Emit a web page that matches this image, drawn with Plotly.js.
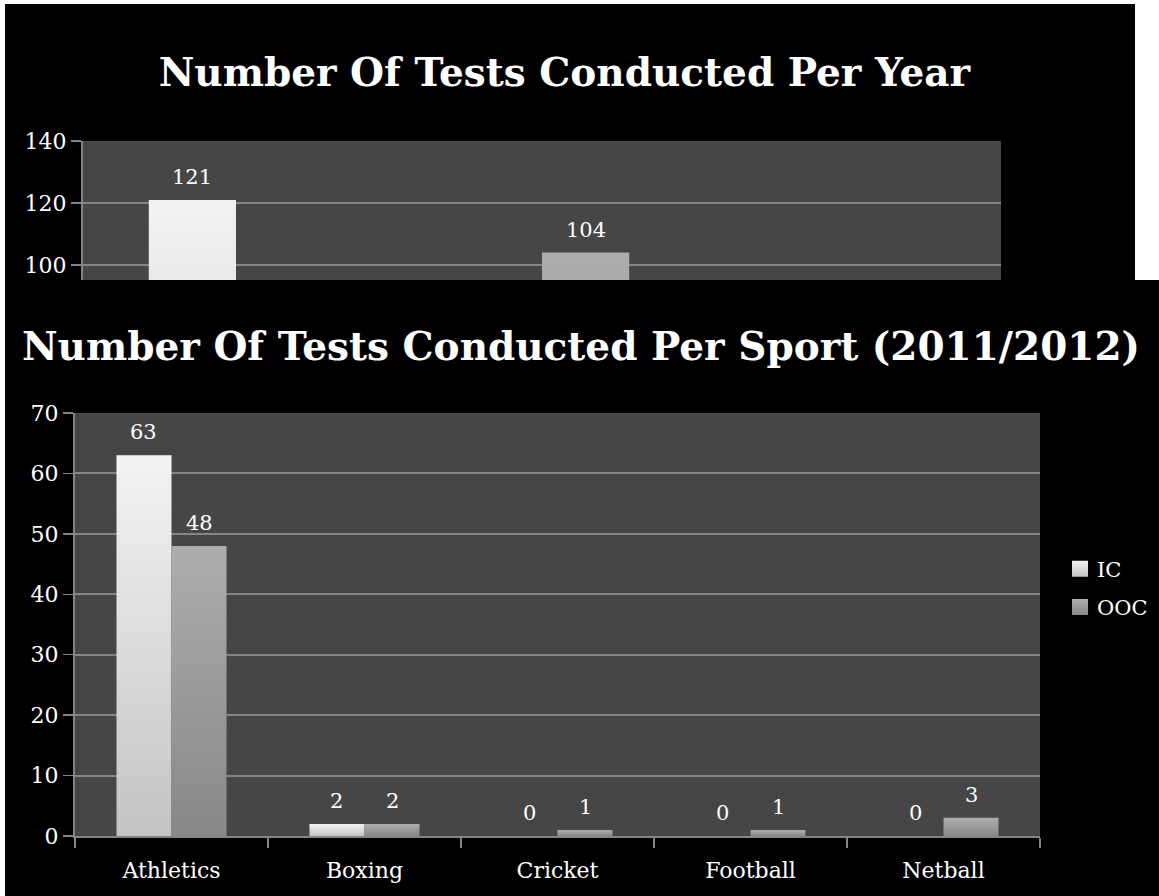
<!DOCTYPE html>
<html>
<head>
<meta charset="utf-8">
<script src="https://cdn.plot.ly/plotly-3.0.1.min.js"></script>
<style>
  html, body { margin: 0; padding: 0; background: #ffffff; width: 1159px; height: 896px; overflow: hidden; }
  #yearFrame { position: absolute; left: 5px; top: 4px; width: 1130px; height: 276px; overflow: hidden; background: #000; }
  #sportFrame { position: absolute; left: 5px; top: 280px; width: 1154px; height: 616px; overflow: hidden; background: #000; }
</style>
</head>
<body>
<div id="yearFrame"><div id="yearChart"></div></div>
<div id="sportFrame"><div id="sportChart"></div></div>
<script>
// ---- data: tests per year ----
const years = ["2009/2010", "2010/2011", "2011/2012"];
const yearIC = [121, 82, 65];
const yearOOC = [79, 104, 55];

// ---- data: tests per sport, 2011/2012 ----
const sports = ["Athletics", "Boxing", "Cricket", "Football", "Netball"];
const sportIC = [63, 2, 0, 0, 0];
const sportOOC = [48, 2, 1, 1, 3];

const seriesNames = ["IC", "OOC"];
const yTicksYear = [0, 20, 40, 60, 80, 100, 120, 140];
const yTicksSport = [0, 10, 20, 30, 40, 50, 60, 70];

const FONT = "DejaVu Serif, Liberation Serif, serif";
const BARGAP = 0.43;

function axisStyle(extra) {
  return Object.assign({
    showline: true, linecolor: "#858585", linewidth: 2,
    gridcolor: "#858585", gridwidth: 2,
    ticks: "outside", ticklen: 10, tickwidth: 1.5, tickcolor: "#858585",
    tickfont: { family: FONT, size: 22, color: "#ffffff" },
    zeroline: false, fixedrange: true
  }, extra || {});
}

function valueLabels(cats, series, plotWidth) {
  const catW = plotWidth / cats.length;
  const barW = catW * (1 - BARGAP) / series.length;
  const ann = [];
  series.forEach((vals, s) => {
    const shift = (s - (series.length - 1) / 2) * barW;
    vals.forEach((v, i) => {
      ann.push({
        x: cats[i], y: v, xref: "x", yref: "y",
        text: String(v), showarrow: false,
        xanchor: "center", yanchor: "bottom",
        xshift: shift, yshift: 9,
        font: { family: FONT, size: 21, color: "#ffffff" }
      });
    });
  });
  return ann;
}

function barTraces(cats, ic, ooc) {
  return [
    { type: "bar", name: seriesNames[0], x: cats, y: ic, marker: { color: "#e6e6e6", line: { width: 0 } }, hoverinfo: "skip", legendgroup: "a" },
    { type: "bar", name: seriesNames[1], x: cats, y: ooc, marker: { color: "#9d9d9d", line: { width: 0 } }, hoverinfo: "skip", legendgroup: "b" }
  ];
}

// vertical light-to-dark fill on each bar, and square legend swatches
function finishChart(gd) {
  const svg = gd.querySelector(".main-svg");
  const ns = "http://www.w3.org/2000/svg";
  const defs = svg.querySelector("defs");
  const stops = { gIC: ["#f3f3f3", "#c4c4c4"], gOOC: ["#adadad", "#888888"] };
  Object.keys(stops).forEach(id => {
    const g = document.createElementNS(ns, "linearGradient");
    g.setAttribute("id", gd.id + id);
    g.setAttribute("x1", "0"); g.setAttribute("y1", "0");
    g.setAttribute("x2", "0"); g.setAttribute("y2", "1");
    stops[id].forEach((c, k) => {
      const st = document.createElementNS(ns, "stop");
      st.setAttribute("offset", k ? "1" : "0");
      st.setAttribute("stop-color", c);
      g.appendChild(st);
    });
    defs.appendChild(g);
  });
  const ids = [gd.id + "gIC", gd.id + "gOOC"];
  gd.querySelectorAll(".barlayer .trace.bars").forEach((tr, t) => {
    tr.querySelectorAll(".point path").forEach(p => { p.style.fill = "url(#" + ids[t] + ")"; });
  });
  gd.querySelectorAll(".legend .traces").forEach((tr, t) => {
    const txt = tr.querySelector(".legendtext");
    const tLeft = txt ? txt.getBoundingClientRect().left : null;
    tr.querySelectorAll(".legendpoints path").forEach(p => {
      p.style.fill = "url(#" + ids[t] + ")";
      p.removeAttribute("transform");
      const m = p.parentNode.getScreenCTM();
      const x0 = (tLeft !== null ? tLeft - 9 - 16 : m.e - 8) - m.e;
      p.setAttribute("d", "M" + x0 + ",-8h16v16h-16Z");
    });
  });
}

// ---- chart 1: per year ----
const yW = 1130, yH = 660, yML = 78, yMR = 134, yMT = 137, yMB = 89;
const yearLayout = {
  width: yW, height: yH,
  margin: { l: yML, r: yMR, t: yMT, b: yMB, pad: 0, autoexpand: false },
  paper_bgcolor: "#000000", plot_bgcolor: "#464646",
  font: { family: FONT, color: "#ffffff", size: 20 },
  title: {
    text: "<b>Number Of Tests Conducted Per Year</b>",
    font: { family: FONT, size: 39, color: "#ffffff" },
    xref: "container", yref: "container", x: 0.495, xanchor: "center",
    y: 1 - 68 / yH, yanchor: "middle"
  },
  barmode: "group", bargap: BARGAP, bargroupgap: 0,
  xaxis: axisStyle({ type: "category", tickson: "boundaries", showgrid: false, ticklabelstandoff: 14 }),
  yaxis: axisStyle({ range: [0, 140], tickvals: yTicksYear, showgrid: true }),
  showlegend: true,
  legend: { xref: "container", yref: "container", x: 1010 / yW, y: 0.5, yanchor: "middle",
            traceorder: "grouped", tracegroupgap: 8,
            font: { family: FONT, size: 21, color: "#ffffff" }, bgcolor: "rgba(0,0,0,0)" },
  annotations: valueLabels(years, [yearIC, yearOOC], yW - yML - yMR)
};
Plotly.newPlot("yearChart", barTraces(years, yearIC, yearOOC), yearLayout, { staticPlot: true })
  .then(finishChart);

// ---- chart 2: per sport ----
const sW = 1154, sH = 616, sML = 70, sMR = 119, sMT = 133, sMB = 60;
const sportLayout = {
  width: sW, height: sH,
  margin: { l: sML, r: sMR, t: sMT, b: sMB, pad: 0, autoexpand: false },
  paper_bgcolor: "#000000", plot_bgcolor: "#464646",
  font: { family: FONT, color: "#ffffff", size: 20 },
  title: {
    text: "<b>Number Of Tests Conducted Per Sport (2011/2012)</b>",
    font: { family: FONT, size: 39, color: "#ffffff" },
    xref: "container", yref: "container", x: 576 / sW, xanchor: "center",
    y: 1 - 66 / sH, yanchor: "middle"
  },
  barmode: "group", bargap: BARGAP, bargroupgap: 0,
  xaxis: axisStyle({ type: "category", tickson: "boundaries", showgrid: false, ticklabelstandoff: 14 }),
  yaxis: axisStyle({ range: [0, 70], tickvals: yTicksSport, showgrid: true }),
  showlegend: true,
  legend: { xref: "container", yref: "container", x: 1148 / sW, y: 1 - 308 / sH, yanchor: "middle",
            traceorder: "grouped", tracegroupgap: 8,
            font: { family: FONT, size: 21, color: "#ffffff" }, bgcolor: "rgba(0,0,0,0)" },
  annotations: valueLabels(sports, [sportIC, sportOOC], sW - sML - sMR)
};
Plotly.newPlot("sportChart", barTraces(sports, sportIC, sportOOC), sportLayout, { staticPlot: true })
  .then(finishChart);
</script>
</body>
</html>
